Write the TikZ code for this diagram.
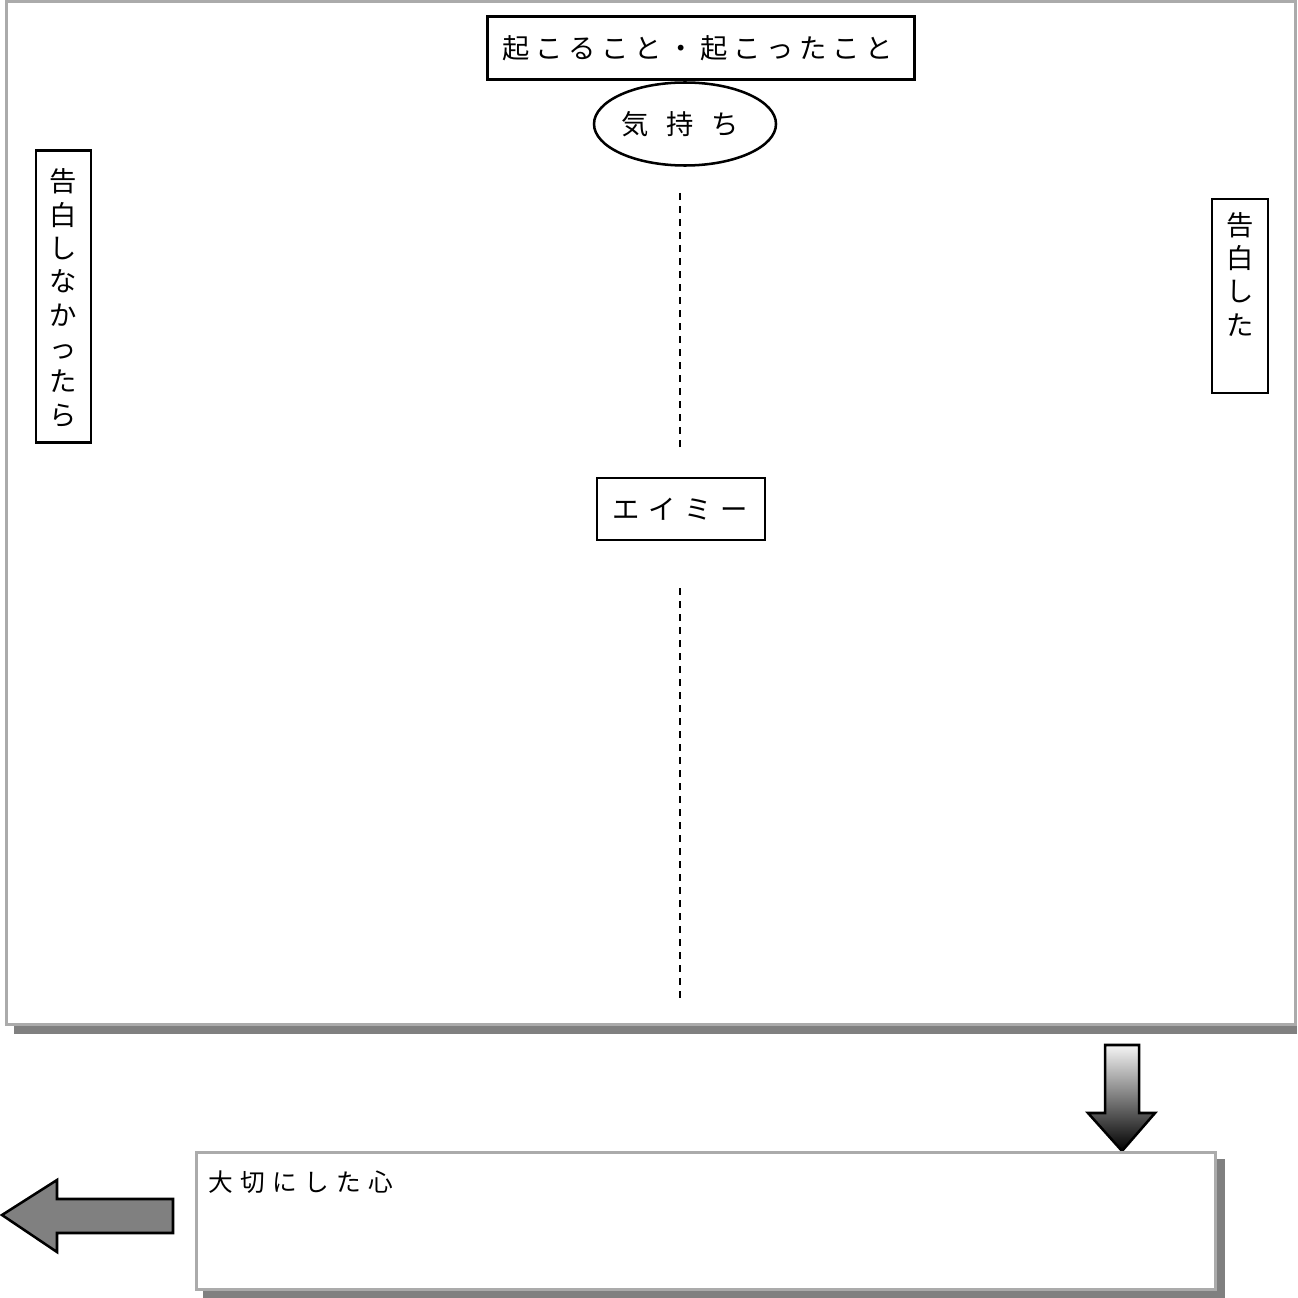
\documentclass[tikz,border=0pt]{standalone}
\usepackage{fontspec}
\newfontfamily\jp{Noto Sans CJK JP}
\usetikzlibrary{shapes.geometric}
\definecolor{framegray}{HTML}{ABABAB}
\definecolor{shadowgray}{HTML}{808080}

% set a run of characters, one per fixed-width cell
\ExplSyntaxOn
\NewDocumentCommand\spread{mm}{\tl_map_inline:nn {#2}{\makebox[#1]{##1}}}
\ExplSyntaxOff

\tikzset{
  blackbox/.style={draw=black, line width=1.9pt, fill=white, inner sep=0pt},
  jtext/.style={font=\jp\fontsize{20.5}{25}\selectfont, inner sep=0pt},
  vtext/.style={font=\jp\fontsize{20.5}{25}\selectfont, inner sep=0pt, align=center},
  guide/.style={line width=1.5pt, dash pattern=on 5.25pt off 4.5pt},
  graybox/.style={draw=framegray, line width=2.25pt, fill=white},
  dropshadow/.style={fill=shadowgray, draw=none},
}

\begin{document}
\begin{tikzpicture}[x=0.75pt, y=-0.75pt]
\useasboundingbox (0,0) rectangle (1297,1298);

% main panel with its drop shadow
\fill[dropshadow] (14,9) rectangle (1297,1034);
\draw[graybox] (6.5,1.5) rectangle (1295.5,1024);

% headings
\node[blackbox, minimum width=427*0.75pt, minimum height=63*0.75pt] (events) at (701,48) {};
\node[jtext] (eventsT) at (697.5,48) {\spread{24.75pt}{起こること・起こったこと}};

\node[ellipse, draw=black, line width=1.9pt, fill=white, minimum width=182*0.75pt, minimum height=83*0.75pt, inner sep=0pt] (feel) at (685,124) {};
\node[jtext] (feelT) at (680,124) {\spread{33.75pt}{気持ち}};

% side labels
\node[blackbox, minimum width=55*0.75pt, minimum height=292*0.75pt] (notconf) at (63.5,296.5) {};
\node[vtext] (notconfT) at (63.5,298) {告\\白\\し\\な\\か\\っ\\た\\ら};

\node[blackbox, minimum width=56*0.75pt, minimum height=194*0.75pt] (conf) at (1240,296) {};
\node[vtext, anchor=north] (confT) at (1240,212) {告\\白\\し\\た};

% centre label and guide lines
\node[blackbox, minimum width=168*0.75pt, minimum height=62*0.75pt] (amy) at (681,509) {};
\node[jtext] (amyT) at (680,509) {\spread{27pt}{エイミー}};

\coordinate (g1a) at (680,193);
\coordinate (g1b) at (680,450);
\coordinate (g2a) at (680,588);
\coordinate (g2b) at (680,1003);
\draw[guide] (g1a) -- (g1b);
\draw[guide] (g2a) -- (g2b);

% down arrow
\shadedraw[top color=gray!8, bottom color=black, draw=black, line width=1.9pt, line join=miter]
  (1105,1045) -- (1139,1045) -- (1139,1113) -- (1155,1113) -- (1122,1151)
  -- (1088,1113) -- (1105,1113) -- cycle;

% summary box
\fill[dropshadow] (203,1159) rectangle (1225,1298);
\draw[graybox] (196,1152) rectangle (1215,1289);
\node[jtext, font=\jp\fontsize{18.5}{22}\selectfont, anchor=west] (heart) at (205,1182) {\spread{24pt}{大切にした心}};

% left arrow
\filldraw[fill=shadowgray, draw=black, line width=1.9pt, line join=miter]
  (173,1199) -- (57,1199) -- (57,1180) -- (2,1215) -- (57,1252) -- (57,1233)
  -- (173,1233) -- cycle;
\end{tikzpicture}
\end{document}
